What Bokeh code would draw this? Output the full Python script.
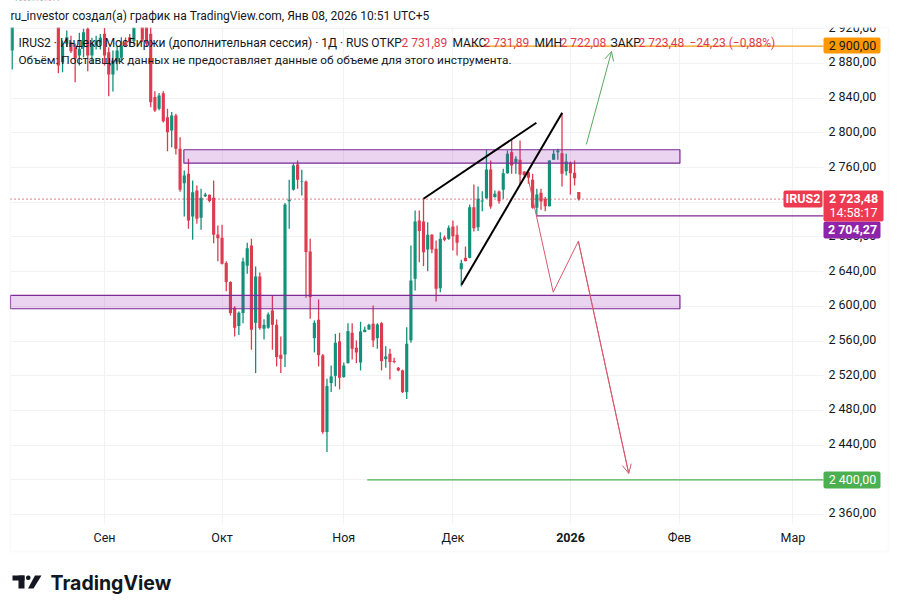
from bokeh.embed import file_html
from bokeh.models import Arrow, BoxAnnotation, FixedTicker, Label, OpenHead, PolyAnnotation, Range1d
from bokeh.plotting import figure
from bokeh.resources import INLINE

# daily candles (first ones are above the visible range)
opens = [2895, 2935, 2950, 2962, 2955, 2966, 2978, 2965, 2972, 2960, 2945, 2950, 2881.5, 2902.6, 2904.6, 2898.8,
         2889.2, 2898.8, 2919.9, 2889.2, 2900.7, 2900.7, 2914.2, 2893, 2867.3, 2881.5, 2886.5, 2904.6, 2910.3, 2905.7,
         2935, 2930, 2925, 2914.2, 2841.2, 2827.7, 2845.8, 2818.1, 2802.7, 2820, 2781.6, 2742, 2752.8, 2703.6, 2733.6,
         2702, 2727, 2728.6, 2725.1, 2682.8, 2679, 2649.8, 2627.9, 2598.3, 2577.2, 2592.2, 2646.7, 2670.1, 2581, 2634.4,
         2574.1, 2575.3, 2595.2, 2578.7, 2544.1, 2544.5, 2721, 2734.3, 2763.5, 2743.2, 2743.9, 2663.2, 2563.3, 2584.5,
         2543.4, 2455, 2511.5, 2519.9, 2559.5, 2518.4, 2534.5, 2569.5, 2552.2, 2535.3, 2570.3, 2573.3, 2579.9, 2563.3,
         2580.6, 2539.1, 2545.3, 2537, 2529.1, 2526.1, 2501.1, 2560.7, 2631.7, 2699, 2697.8, 2665.5, 2682.4, 2666.3,
         2620.9, 2679.4, 2677.8, 2692, 2682.4, 2642.8, 2655.9, 2655.9, 2714.3, 2691.3, 2720.9, 2724.7, 2757.7, 2725.9,
         2732.4, 2734.3, 2753.5, 2777.7, 2765.4, 2768.9, 2755.4, 2754.7, 2745.8, 2713.6, 2730.8, 2723.9, 2715.5, 2768.9,
         2777.7, 2776.6, 2755.8, 2765.4, 2753.9, 2731.89]
highs = [2948, 2955, 2968, 2975, 2972, 2985, 2990, 2980, 2982, 2970, 2960, 2960, 2906.5, 2918, 2912, 2903,
         2915.3, 2919.9, 2922, 2909.6, 2912, 2914, 2921, 2898.8, 2895, 2900, 2910.3, 2910, 2914, 2930,
         2945, 2938, 2932, 2925, 2848, 2846, 2848, 2827.7, 2823.9, 2822, 2795, 2756.6, 2770, 2745.1, 2739.3,
         2735.5, 2731, 2729, 2745.1, 2693.2, 2694, 2652.1, 2629, 2600, 2594, 2655.9, 2673.2, 2677.9, 2645.9, 2639,
         2585, 2593, 2612.5, 2584.9, 2565.3, 2719, 2745.9, 2765, 2768.1, 2757.4, 2745, 2677.8, 2583.7, 2607.9,
         2545, 2516.5, 2531.8, 2568.3, 2569.5, 2535.3, 2580.6, 2580.6, 2560.7, 2582.2, 2576.8, 2579.9, 2601, 2580.6,
         2581.8, 2554.1, 2551, 2540.7, 2530, 2527, 2576, 2670.1, 2710.5, 2710.5, 2724, 2697, 2683, 2675.9,
         2685.5, 2681.7, 2693.2, 2698.9, 2693.2, 2653.6, 2669, 2717.4, 2740.5, 2738.2, 2732.8, 2780.4, 2768.1, 2733.5,
         2733.5, 2758.5, 2779.7, 2792, 2773.1, 2791.2, 2755.8, 2755.8, 2752.8, 2735.5, 2735.5, 2725.9, 2768.5, 2780.4,
         2781.6, 2822.7, 2775.8, 2767, 2768.1, 2731.89]
lows = [2873, 2926, 2942, 2948, 2945, 2958, 2960, 2950, 2955, 2938, 2930, 2868.8, 2870, 2899, 2892, 2858.4,
        2877.7, 2887.3, 2871.1, 2879.6, 2896, 2896, 2877.7, 2842.3, 2847.7, 2871.9, 2883.4, 2899, 2900, 2902,
        2924, 2905, 2899, 2829.6, 2824, 2826, 2812, 2778.9, 2783.5, 2775.1, 2732, 2703.6, 2689.4, 2676.7, 2695.1,
        2688.2, 2726, 2720, 2672.8, 2652.1, 2648.2, 2617.5, 2589.5, 2565.3, 2566.8, 2580.6, 2637.5, 2549.9, 2523, 2573,
        2561.8, 2574, 2549.9, 2530.7, 2523, 2530, 2689.4, 2733.6, 2735.5, 2727.8, 2609.8, 2585.6, 2546.8, 2530.7,
        2453.1, 2431.9, 2501.1, 2507.6, 2504.2, 2517.6, 2534, 2538.8, 2534.5, 2526.1, 2570, 2573, 2553, 2551,
        2526.1, 2529.1, 2515.7, 2534.5, 2525, 2500, 2493, 2558, 2618.2, 2650.9, 2646.3, 2640.5, 2661.3, 2605.6,
        2616.3, 2675.1, 2676.7, 2664.4, 2658.6, 2622.9, 2652, 2655.5, 2686.3, 2686.7, 2709.7, 2723.9, 2712.4, 2725.1,
        2718.2, 2724, 2752.8, 2752.8, 2752.8, 2739.3, 2750.4, 2741.2, 2712.4, 2704.7, 2711.3, 2709.7, 2715.1, 2768.9,
        2768.9, 2738.2, 2750.8, 2728.9, 2739.3, 2722.08]
closes = [2935, 2950, 2962, 2955, 2966, 2978, 2965, 2972, 2960, 2945, 2950, 2877.7, 2900.7, 2910.3, 2894.2, 2885.3,
          2896.9, 2916.1, 2889.2, 2902.6, 2906.5, 2909.6, 2889.2, 2867.3, 2883.4, 2895, 2900.7, 2900.7, 2904.6, 2921.1,
          2930, 2907.3, 2902.6, 2835.4, 2825.8, 2843.1, 2813.5, 2800.8, 2820, 2781.6, 2734.3, 2750.9, 2699, 2731.6, 2700.9,
          2725.1, 2729, 2721.3, 2682.4, 2678.6, 2649, 2627.9, 2592.2, 2575.3, 2592.6, 2651.7, 2667, 2573, 2634.4, 2574.9,
          2578.7, 2590.6, 2578.7, 2541.4, 2539.5, 2717.4, 2723, 2762.4, 2745.9, 2744, 2662.5, 2610.6, 2581, 2543.7,
          2455, 2508, 2519.2, 2558, 2517.6, 2531.8, 2571.4, 2551, 2546.8, 2571, 2573, 2578.7, 2560.7, 2579.1,
          2536.8, 2542.2, 2535.7, 2535.8, 2526.1, 2501.1, 2556.8, 2629.8, 2697.8, 2686.7, 2662.4, 2682.4, 2665.5, 2620.2,
          2677.8, 2676.7, 2690.5, 2680.9, 2673.2, 2649.8, 2652, 2714.3, 2690.1, 2723.9, 2722, 2757.7, 2715.1, 2729.7,
          2721.2, 2753.5, 2775.8, 2762.4, 2770, 2752, 2751.2, 2748.1, 2713.6, 2728.9, 2720.9, 2715.5, 2768.1, 2775.8,
          2779.7, 2752.8, 2767, 2753.5, 2747.8, 2723.48]

price_ticks = [2360, 2400, 2440, 2480, 2520, 2560, 2600, 2640, 2680, 2720, 2760, 2800, 2840, 2880, 2920]
price_labels = ["2 360,00", "2 400,00", "2 440,00", "2 480,00", "2 520,00", "2 560,00", "2 600,00", "2 640,00",
                "2 680,00", "2 720,00", "2 760,00", "2 800,00", "2 840,00", "2 880,00", "2 920,00"]
month_bars = [22, 50, 79, 105, 133, 159, 186]
month_labels = ["Сен", "Окт", "Ноя", "Дек", "", "Фев", "Мар"]

# drawings on the chart
zone_top = [2780.5, 2612.5]
zone_bottom = [2765, 2597.2]
zone_left = [40.9, -0.4]
zone_right = [159.1, 159.1]
wedge_upper_x = [98, 124.9]
wedge_upper_y = [2724, 2811.6]
wedge_lower_x = [107.05, 131.05]
wedge_lower_y = [2624.8, 2823.2]
drop_x = [123.05, 128.9, 134.9, 146.9]
drop_y = [2745.1, 2616.3, 2675.1, 2407.3]
rise_x = [136.8, 142.8]
rise_y = [2786.6, 2893.8]
target_up = 2900
target_down = 2400
support = 2704.27
last_price = 2723.48

GREEN = "#12917A"
RED = "#DE3B50"
INK = "#131722"
FONT = "Roboto"
LEFT, RIGHT = -0.4, 193.3      # pane edges in bars
TOP, BOTTOM = 2921.5, 2349.6   # pane edges in price
LABEL_NUDGE = 1.7              # tradingview prints price labels a bit above their gridline

# the frame fills the whole canvas, annotations get clipped to it otherwise
p = figure(width=890, height=604, frame_width=890, frame_height=604, output_backend="svg", toolbar_location=None,
           x_range=Range1d(-2.788, 209.27), y_range=Range1d(2256.2, 2952.6), y_axis_location="right",
           min_border=0)
p.outline_line_color = None
p.xgrid.ticker = FixedTicker(ticks=month_bars)
p.ygrid.ticker = FixedTicker(ticks=price_ticks)
p.xgrid.cross_bounds = (BOTTOM, TOP)
p.ygrid.cross_bounds = (LEFT, RIGHT)
p.grid.grid_line_color = "#F0F2F6"
p.xaxis.ticker = FixedTicker(ticks=month_bars)
p.xaxis.major_label_overrides = dict(zip(month_bars, month_labels))
label_ticks = [v + LABEL_NUDGE for v in price_ticks]
p.yaxis.ticker = FixedTicker(ticks=label_ticks)
p.yaxis.major_label_overrides = dict(zip(label_ticks, price_labels))
p.xaxis.fixed_location = BOTTOM
p.yaxis.fixed_location = RIGHT
p.axis.axis_line_color = None
p.axis.major_tick_line_color = None
p.axis.major_tick_out = 0
p.axis.minor_tick_line_color = None
p.axis.major_label_text_font = FONT
p.axis.major_label_text_font_size = "12.5px"
p.axis.major_label_text_color = INK
p.xaxis.major_label_standoff = 7
p.yaxis.major_label_standoff = 5

bars = list(range(len(opens)))
up = [i for i in bars if closes[i] >= opens[i]]
down = [i for i in bars if closes[i] < opens[i]]
for idx, col in ((up, GREEN), (down, RED)):
    p.segment([i for i in idx], [lows[i] for i in idx], [i for i in idx], [highs[i] for i in idx], line_color=col, line_width=1.3)
    p.vbar(x=idx, bottom=[min(opens[i], closes[i]) for i in idx], top=[max(opens[i], closes[i]) for i in idx],
           width=0.75, fill_color=col, line_color=None)

p.line([LEFT, 183.8], [last_price, last_price], line_color="#D0304A", line_dash=[1, 3], line_width=1.3)
p.quad(left=zone_left, right=zone_right, top=zone_top, bottom=zone_bottom, fill_color="#9C27B0", fill_alpha=0.2,
       line_color="#7B2A96", line_width=1.2)
p.line([108.4, RIGHT], [target_up, target_up], line_color="#F59A0C", line_width=1.2)
p.line([84.6, RIGHT], [target_down, target_down], line_color="#4CAF50", line_width=1.2)
p.line([124.9, RIGHT], [support, support], line_color="#7B2A96", line_width=1.2)
p.line(wedge_upper_x, wedge_upper_y, line_color="#000000", line_width=2)
p.line(wedge_lower_x, wedge_lower_y, line_color="#000000", line_width=2)
p.line(drop_x, drop_y, line_color="#D9596F", line_width=1)
p.add_layout(Arrow(end=OpenHead(size=9, line_color="#D9596F", line_width=1), x_start=drop_x[-2], y_start=drop_y[-2],
                   x_end=drop_x[-1], y_end=drop_y[-1], line_color="#D9596F", line_width=1))
p.add_layout(Arrow(end=OpenHead(size=9, line_color="#5BA85F", line_width=1), x_start=rise_x[0], y_start=rise_y[0],
                   x_end=rise_x[1], y_end=rise_y[1], line_color="#5BA85F", line_width=1))


def box(left, right, top, bottom, color, line=None, radius=0, width=1):
    p.add_layout(BoxAnnotation(left=left, right=right, top=top, bottom=bottom, left_units="canvas", right_units="canvas",
                               top_units="canvas", bottom_units="canvas", fill_color=color, fill_alpha=1 if color else 0,
                               line_color=line, line_width=width, border_radius=radius))


def text(x, y, s, color=INK, size=12, style="normal", align="left", font=FONT):
    p.add_layout(Label(x=x, y=y, x_units="canvas", y_units="canvas", text=s, text_color=color, text_font=font,
                       text_font_size=f"{size}px", text_font_style=style, text_align=align, text_baseline="middle"))


# canvas coordinates from here on
box(0, 890, 0, 27, "#FFFFFF")
box(10, 888, 27, 551, None, line="#EDEDED", width=2)
box(823, 880, 37, 53, "#FF9800", radius=2)
box(823, 880, 471, 488, "#4CAF50", radius=2)
box(823, 880, 221, 238, "#8E24AA", radius=2)
box(783, 822, 190, 207, "#EE3A50", radius=2)
box(823, 883, 190, 221, "#EE3A50", radius=2)

text(10, 15, "ru_investor создал(а) график на TradingView.com, Янв 08, 2026 10:51 UTC+5")
text(18, 42, "IRUS2 · Индекс МосБиржи (дополнительная сессия) · 1Д · RUS  ОТКР")
text(401, 42, "2 731,89", RED)
text(452, 42, "МАКС")
text(483, 42, "2 731,89", RED)
text(534, 42, "МИН")
text(560, 42, "2 722,08", RED)
text(610, 42, "ЗАКР")
text(638, 42, "2 723,48", RED)
text(689, 42, "−24,23 (−0,88%)", RED)
text(18, 59, "Объём: Поставщик данных не предоставляет данные об объеме для этого инструмента.", size=11.8)
text(570, 537, "2026", size=12.5, style="bold", align="center")
text(852, 45, "2 900,00", "#131722", size=12.5, align="center")
text(852, 479, "2 400,00", "#FFFFFF", size=12.5, align="center")
text(852, 229, "2 704,27", "#FFFFFF", size=12.5, style="bold", align="center")
text(802.5, 198, "IRUS2", "#FFFFFF", size=12.5, style="bold", align="center")
text(853, 198, "2 723,48", "#FFFFFF", size=12.5, style="bold", align="center")
text(853, 212, "14:58:17", "#FFFFFF", size=12.5, align="center")

# logo
box(12, 24, 575, 580, "#131722")
box(18, 24, 575, 588, "#131722")
box(25.5, 30, 575, 579.5, "#131722", radius=2)
p.add_layout(PolyAnnotation(xs=[34.5, 41, 33, 27.5], ys=[575, 575, 588, 588], xs_units="canvas", ys_units="canvas",
                            fill_color="#131722", fill_alpha=1, line_color=None))
text(50, 582, "TradingView", "#131722", size=19.5, style="bold", font="Inter")

open("out.html", "w").write(file_html(p, INLINE))
